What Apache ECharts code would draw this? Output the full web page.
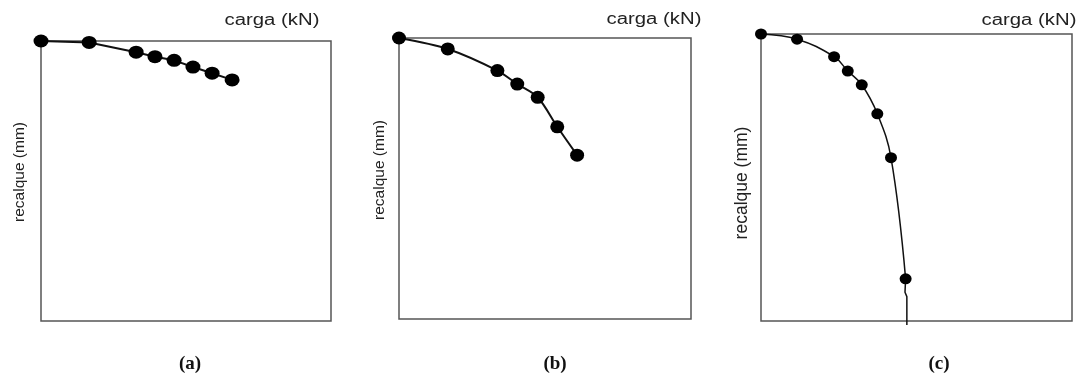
<!DOCTYPE html>
<html>
<head>
<meta charset="utf-8">
<script src="https://cdn.jsdelivr.net/npm/echarts@6/dist/echarts.min.js"></script>
<style>
html,body{margin:0;padding:0;background:#fff;}
#chart{width:1088px;height:376px;}
</style>
</head>
<body>
<div id="chart"></div>
<script>
// Panel (a)
const loadA = [0, 16.6, 32.8, 39.3, 45.9, 52.4, 59.0, 65.9];
const settleA = [0, 0.5, 4.0, 5.6, 6.9, 9.3, 11.5, 13.9];
// Panel (b)
const loadB = [0, 16.7, 33.7, 40.5, 47.5, 54.2, 61.0];
const settleB = [0, 3.9, 11.6, 16.4, 21.1, 31.6, 41.7];
// Panel (c)
const loadC = [0, 11.6, 23.5, 27.9, 32.4, 37.4, 41.8, 46.5];
const settleC = [0, 1.8, 7.9, 12.9, 17.7, 27.8, 43.1, 85.3];
// Panel (c) curve continuation (no markers)
const tailLoadC = [46.5, 46.3, 46.9, 46.9];
const tailSettleC = [85.3, 90.0, 91.5, 101.4];

const panelLabels = ['(a)', '(b)', '(c)'];
const xTitle = 'carga (kN)';
const yTitle = 'recalque (mm)';

function pairs(xs, ys) { return xs.map((x, i) => [x, ys[i]]); }

const grids = [
  {left: 41, top: 41, width: 290, height: 280},
  {left: 399, top: 38, width: 292, height: 281},
  {left: 761, top: 34, width: 311, height: 287}
];

const chart = echarts.init(document.getElementById('chart'), null, {renderer: 'canvas'});

const axisCommon = {
  type: 'value', min: 0, max: 100,
  axisLine: {show: false}, axisTick: {show: false},
  axisLabel: {show: false}, splitLine: {show: false}
};

const lineColor = '#111';
function lineSeries(idx, data, symSize, width, smooth, showSym) {
  return {
    type: 'line', xAxisIndex: idx, yAxisIndex: idx,
    data: data, smooth: smooth, clip: false,
    symbol: 'circle', symbolSize: symSize, showSymbol: showSym,
    lineStyle: {color: lineColor, width: width},
    itemStyle: {color: '#000'},
    animation: false, silent: true
  };
}

const textStyle = {fill: '#222', font: '16px "Liberation Sans", Arial, sans-serif', textAlign: 'center', textVerticalAlign: 'middle'};

const graphics = [];
const xTitlePos = [[272, 21], [654, 20], [1029, 21]];
const yTitlePos = [[20, 172], [380, 170], [742, 183]];
const yTitleSize = [15.5, 15.5, 17.5];
const labelPos = [[190, 364], [555, 364], [939, 364]];
for (let i = 0; i < 3; i++) {
  graphics.push({
    type: 'text', x: xTitlePos[i][0], y: xTitlePos[i][1], scaleX: 1.27,
    style: Object.assign({}, textStyle, {text: xTitle})
  });
  graphics.push({
    type: 'text', x: yTitlePos[i][0], y: yTitlePos[i][1], rotation: Math.PI / 2,
    style: Object.assign({}, textStyle, {text: yTitle, font: yTitleSize[i] + 'px "Liberation Sans", Arial, sans-serif'})
  });
  graphics.push({
    type: 'text', x: labelPos[i][0], y: labelPos[i][1],
    style: {text: panelLabels[i], fill: '#111', font: 'bold 19px "Liberation Serif", "Times New Roman", serif', textAlign: 'center', textVerticalAlign: 'middle'}
  });
}

chart.setOption({
  backgroundColor: '#fff',
  animation: false,
  grid: grids.map(g => Object.assign({show: true, borderColor: '#555', borderWidth: 1.5, backgroundColor: 'transparent'}, g)),
  xAxis: [0, 1, 2].map(i => Object.assign({gridIndex: i, position: 'top'}, axisCommon)),
  yAxis: [0, 1, 2].map(i => Object.assign({gridIndex: i, inverse: true}, axisCommon)),
  series: [
    lineSeries(0, pairs(loadA, settleA), [15, 13], 2, false, true),
    lineSeries(1, pairs(loadB, settleB), [14, 13], 2, 0.3, true),
    lineSeries(2, pairs(tailLoadC, tailSettleC), 1, 1.5, false, false),
    lineSeries(2, pairs(loadC, settleC), [12, 11], 1.5, 0.4, true)
  ],
  graphic: graphics
});
</script>
</body>
</html>
